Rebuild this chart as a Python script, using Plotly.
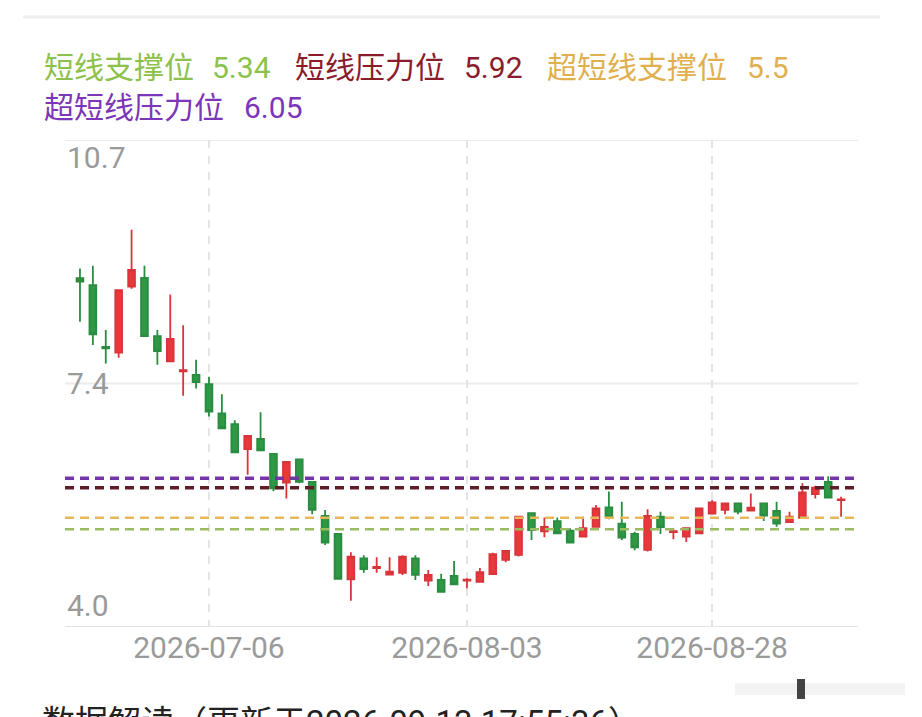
import pandas as pd
import plotly.graph_objects as go

# ---- data ----
dates = [d.strftime("%Y-%m-%d") for d in pd.bdate_range("2026-06-22", "2026-09-11")]

opens = [8.835, 8.74, 7.88, 7.80, 8.72, 8.84, 8.03, 7.68, 7.54, 7.49,
         7.36, 6.955, 6.805, 6.455, 6.60, 6.39, 5.99, 6.315, 6.00, 5.525,
         5.275, 4.645, 4.935, 4.80, 4.71, 4.735, 4.935, 4.625, 4.635, 4.69,
         4.625, 4.61, 4.715, 4.915, 4.985, 5.565, 5.31, 5.455, 5.32, 5.24,
         5.375, 5.645, 5.42, 5.275, 5.055, 5.515, 5.30, 5.24, 5.285, 5.56,
         5.61, 5.70, 5.60, 5.70, 5.595, 5.44, 5.50, 5.83, 6.00, 5.745]
highs = [8.97, 9.01, 8.115, 8.68, 9.51, 9.01, 8.115, 8.61, 8.18, 7.70,
         7.465, 7.22, 6.86, 6.645, 6.97, 6.395, 6.29, 6.32, 6.01, 5.61,
         5.28, 5.02, 4.98, 4.95, 4.95, 4.98, 4.98, 4.775, 4.72, 4.90,
         4.66, 4.80, 5.015, 5.05, 5.52, 5.57, 5.505, 5.505, 5.355, 5.515,
         5.68, 5.865, 5.725, 5.305, 5.62, 5.585, 5.355, 5.36, 5.64, 5.745,
         5.705, 5.705, 5.84, 5.705, 5.725, 5.585, 5.98, 5.945, 6.08, 5.795]
lows = [8.23, 7.905, 7.65, 7.73, 8.69, 8.02, 7.63, 7.67, 7.20, 7.30,
        6.91, 6.74, 6.40, 6.10, 6.435, 5.87, 5.77, 5.98, 5.55, 5.12,
        4.645, 4.345, 4.735, 4.735, 4.705, 4.705, 4.635, 4.55, 4.465, 4.57,
        4.52, 4.605, 4.71, 4.88, 4.96, 5.19, 5.23, 5.28, 5.15, 5.235,
        5.37, 5.48, 5.19, 5.05, 5.03, 5.275, 5.20, 5.165, 5.28, 5.555,
        5.55, 5.55, 5.595, 5.455, 5.375, 5.435, 5.495, 5.77, 5.77, 5.515]
closes = [8.79, 8.055, 7.86, 8.67, 8.95, 8.03, 7.82, 7.99, 7.555, 7.39,
          6.98, 6.745, 6.41, 6.64, 6.44, 5.91, 6.28, 6.00, 5.61, 5.155,
          4.65, 4.96, 4.785, 4.815, 4.75, 4.96, 4.705, 4.705, 4.47, 4.575,
          4.64, 4.745, 4.995, 5.04, 5.515, 5.33, 5.375, 5.285, 5.155, 5.355,
          5.63, 5.515, 5.225, 5.09, 5.525, 5.37, 5.315, 5.355, 5.63, 5.715,
          5.70, 5.585, 5.64, 5.53, 5.42, 5.515, 5.855, 5.92, 5.78, 5.755]

tick_dates = ["2026-07-06", "2026-08-03", "2026-08-28"]
y_tick_vals = [10.76, 7.37, 3.98]
y_tick_text = ["10.7", "7.4", "4.0"]

level_names = ["短线支撑位", "短线压力位", "超短线支撑位", "超短线压力位"]
level_values = [5.34, 5.92, 5.5, 6.05]
level_labels = ["5.34", "5.92", "5.5", "6.05"]

footer_text = "数据解读（更新于2026-09-13 17:55:36）"

# ---- style ----
FONT = "Roboto, 'Noto Sans CJK SC', sans-serif"
OFF = 8                      # page body margin
W, H = 922 - OFF, 717 - OFF
L, R, T, B = 65 - OFF, 64, 140 - OFF, 90
PW, PH = W - L - R, H - T - B
YMIN, YMAX = 3.98, 10.76

def px_x(x):  # screen pixel -> paper
    return (x - OFF - L) / PW

def px_y(y):
    return (H - B - (y - OFF)) / PH

text_colors = ["#8cc14c", "#8b1c2c", "#e0b050", "#7c36b8"]
line_colors = ["#9bbb63", "#5e1e28", "#e6b85a", "#7436a6"]
line_widths = [2.5, 3.5, 2.5, 3.5]
legend_pos = [(42, 210, 67), (293, 462, 67), (545, 745, 67), (42, 242, 108)]

fig = go.Figure()
fig.add_trace(go.Candlestick(
    x=dates, open=opens, high=highs, low=lows, close=closes,
    increasing=dict(line=dict(color="#d8353a", width=1.8), fillcolor="#e8383d"),
    decreasing=dict(line=dict(color="#2a8c40", width=1.8), fillcolor="#2e9845"),
    whiskerwidth=0, showlegend=False, hoverinfo="skip",
))

shapes = []
for v, c in zip(y_tick_vals, ["#ececec", "#ececec", "#e2e2e2"]):
    shapes.append(dict(type="line", xref="paper", yref="y", x0=0, x1=1, y0=v, y1=v,
                       line=dict(color=c, width=2), layer="below"))
for v, c, w in zip(level_values, line_colors, line_widths):
    shapes.append(dict(type="line", xref="paper", yref="y", x0=0, x1=1, y0=v, y1=v,
                       line=dict(color=c, width=w, dash="9px,6px"), layer="above"))
shapes.append(dict(type="line", xref="paper", yref="paper", x0=px_x(23), x1=px_x(880),
                   y0=px_y(17), y1=px_y(17), line=dict(color="#eeeeee", width=3)))
shapes.append(dict(type="rect", xref="paper", yref="paper", x0=px_x(735), x1=px_x(905),
                   y0=px_y(695), y1=px_y(683), line=dict(width=0), fillcolor="#f3f3f3"))
shapes.append(dict(type="rect", xref="paper", yref="paper", x0=px_x(797), x1=px_x(805),
                   y0=px_y(699), y1=px_y(679), line=dict(width=0), fillcolor="#444444"))

annotations = []
for (nx, vx, cy), name, lab, col in zip(legend_pos, level_names, level_labels, text_colors):
    annotations.append(dict(text=name, x=px_x(nx), y=px_y(cy), xref="paper", yref="paper",
                            xanchor="left", yanchor="middle", showarrow=False,
                            font=dict(family=FONT, size=30, color=col)))
    annotations.append(dict(text=lab, x=px_x(vx), y=px_y(cy), xref="paper", yref="paper",
                            xanchor="left", yanchor="middle", showarrow=False,
                            font=dict(family=FONT, size=30, color=col)))
for v, t, anc in zip(y_tick_vals, y_tick_text, ["top", "middle", "bottom"]):
    annotations.append(dict(text=t, x=0, y=v, xref="paper", yref="y", xanchor="left",
                            yanchor=anc, showarrow=False, yshift={"top": 2, "middle": 0, "bottom": 2}[anc],
                            font=dict(family=FONT, size=30, color="#9a9a9a")))
annotations.append(dict(text=footer_text, x=px_x(40), y=px_y(701),
                        xref="paper", yref="paper", xanchor="left", yanchor="top",
                        showarrow=False, font=dict(family=FONT, size=33, color="#222222")))

fig.update_layout(
    width=W, height=H, margin=dict(l=L, r=R, t=T, b=B),
    paper_bgcolor="white", plot_bgcolor="white",
    shapes=shapes, annotations=annotations, boxgap=0.25,
    xaxis=dict(type="category", range=[-1.16, 60.31], tickvals=tick_dates, ticktext=tick_dates,
               showgrid=True, gridcolor="#e4e4e4", gridwidth=2, griddash="8px,8px",
               showline=False, zeroline=False, ticks="", rangeslider=dict(visible=False),
               tickfont=dict(family=FONT, size=30, color="#9a9a9a")),
    yaxis=dict(range=[YMIN, YMAX], showgrid=False, showticklabels=False, zeroline=False,
               showline=False),
)

fig.write_html("out.html", config={"displayModeBar": False})
